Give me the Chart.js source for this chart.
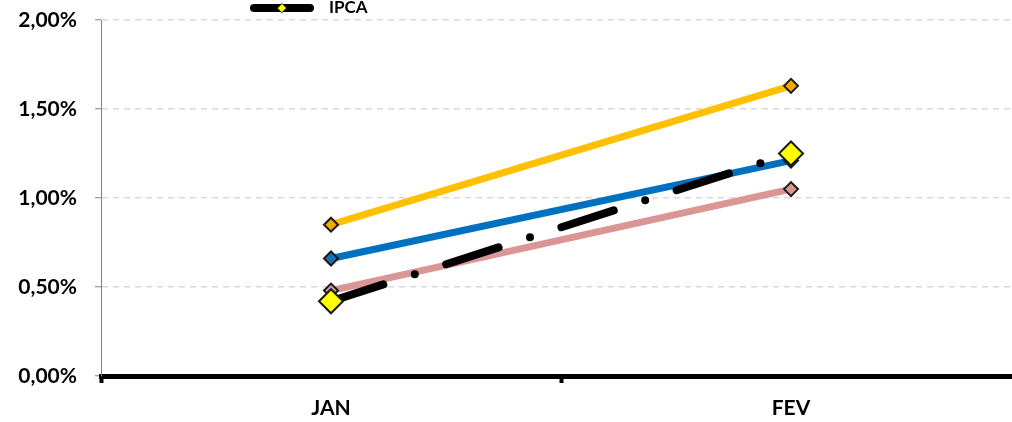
<!DOCTYPE html>
<html lang="pt-BR">
<head>
<meta charset="utf-8">
<title>IPCA</title>
<script src="https://cdn.jsdelivr.net/npm/chart.js@4/dist/chart.umd.min.js"></script>
<style>
  html, body { margin: 0; padding: 0; background: #fff; overflow: hidden; }
  #caja { position: relative; width: 1022px; height: 422px; }
</style>
</head>
<body>
<div id="caja"><canvas id="grafico" width="1022" height="422"></canvas></div>
<script>
// Datos (en %)
const meses = ['JAN', 'FEV'];
const serieNaranja = [0.85, 1.63];
const serieAzul = [0.66, 1.21];
const serieRosa = [0.48, 1.05];
const ipca = [0.42, 1.25];
const ticksY = [0, 0.5, 1, 1.5, 2];

const fuente = 'Lato, "Open Sans", sans-serif';

function formatoPct(v) {
    return v.toFixed(2).replace('.', ',') + '%';
}

// Leyenda dibujada a mano: sólo aparece IPCA
const leyendaIPCA = {
    id: 'leyendaIPCA',
    afterDraw(chart) {
        const ds = chart.data.datasets[0];
        const ctx = chart.ctx;
        ctx.save();
        ctx.lineCap = 'round';
        ctx.lineWidth = 8;
        ctx.strokeStyle = ds.borderColor;
        ctx.beginPath();
        ctx.moveTo(254, 8);
        ctx.lineTo(310, 8);
        ctx.stroke();

        // rombo amarillo
        const r = 4.5;
        ctx.beginPath();
        ctx.moveTo(282 - r, 8);
        ctx.lineTo(282, 8 - r);
        ctx.lineTo(282 + r, 8);
        ctx.lineTo(282, 8 + r);
        ctx.closePath();
        ctx.fillStyle = ds.pointBackgroundColor;
        ctx.fill();
        ctx.lineWidth = 1;
        ctx.strokeStyle = '#222';
        ctx.stroke();

        ctx.fillStyle = '#000';
        ctx.font = 'bold 17px ' + fuente;
        ctx.textBaseline = 'middle';
        ctx.textAlign = 'left';
        ctx.fillText(ds.label, 329, 8);
        ctx.restore();
    }
};

new Chart(document.getElementById('grafico'), {
    type: 'line',
    data: {
        labels: meses,
        datasets: [
            {
                label: 'IPCA',
                data: ipca,
                order: 0,
                borderColor: '#000',
                borderWidth: 8,
                borderCapStyle: 'round',
                borderDash: [55, 33, 0, 33],
                pointStyle: 'rectRot',
                pointRadius: 12,
                pointBackgroundColor: '#FFFF00',
                pointBorderColor: '#1a1a1a',
                pointBorderWidth: 2
            },
            {
                label: 'Série 1',
                data: serieNaranja,
                order: 1,
                borderColor: '#FFC000',
                borderWidth: 7,
                pointStyle: 'rectRot',
                pointRadius: 7,
                pointBackgroundColor: '#F2A900',
                pointBorderColor: '#1a1a1a',
                pointBorderWidth: 2
            },
            {
                label: 'Série 2',
                data: serieAzul,
                order: 2,
                borderColor: '#0070C0',
                borderWidth: 7,
                pointStyle: 'rectRot',
                pointRadius: 7,
                pointBackgroundColor: '#1F6FB8',
                pointBorderColor: '#1a1a1a',
                pointBorderWidth: 2
            },
            {
                label: 'Série 3',
                data: serieRosa,
                order: 3,
                borderColor: '#D99694',
                borderWidth: 7,
                pointStyle: 'rectRot',
                pointRadius: 7,
                pointBackgroundColor: '#D99694',
                pointBorderColor: '#1a1a1a',
                pointBorderWidth: 2
            }
        ]
    },
    options: {
        responsive: false,
        animation: false,
        elements: { line: { tension: 0 } },
        layout: { autoPadding: false, padding: { top: 20, right: 1, left: 0, bottom: 0 } },
        plugins: {
            legend: { display: false },
            tooltip: { enabled: false }
        },
        scales: {
            x: {
                offset: true,
                afterFit: (scale) => { scale.height = 46; },
                border: { display: true, color: '#000', width: 5 },
                grid: {
                    offset: true,
                    drawOnChartArea: false,
                    drawTicks: true,
                    tickLength: 7,
                    tickWidth: 4,
                    tickColor: '#000'
                },
                ticks: {
                    padding: 13,
                    color: '#000',
                    font: { family: fuente, size: 21, weight: 'bold' }
                }
            },
            y: {
                min: 0,
                max: 2,
                afterFit: (scale) => {
                    scale.width = 101;
                    scale.paddingTop = 0;
                    scale.paddingBottom = 0;
                },
                afterBuildTicks: (scale) => {
                    scale.ticks = ticksY.map(v => ({ value: v }));
                },
                border: { display: true, color: '#808080', width: 1, dash: [6, 5] },
                grid: {
                    color: '#D9D9D9',
                    lineWidth: 1.5,
                    drawTicks: true,
                    tickLength: 6,
                    tickColor: '#808080',
                    tickWidth: 1,
                    tickBorderDash: []
                },
                ticks: {
                    padding: 18,
                    color: '#000',
                    font: { family: fuente, size: 21, weight: 'bold' },
                    callback: (v) => formatoPct(v)
                }
            }
        }
    },
    plugins: [leyendaIPCA]
});
</script>
</body>
</html>
